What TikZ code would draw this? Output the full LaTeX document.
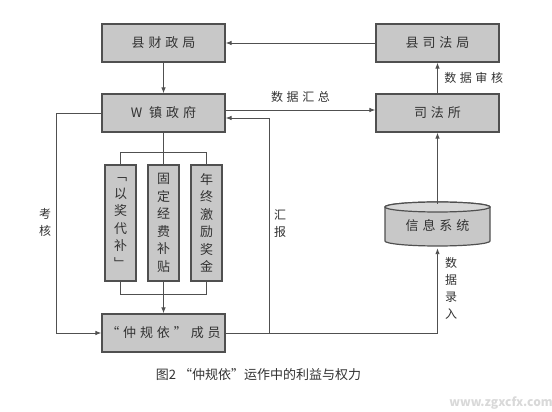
\documentclass[tikz,border=0pt]{standalone}
\usepackage{fontspec}
\setmainfont{Noto Sans CJK SC}
\newfontfamily\boxfont[LetterSpace=30]{Noto Sans CJK SC}
\usetikzlibrary{arrows.meta}
\definecolor{boxgray}{RGB}{200,200,200}
\definecolor{topgray}{RGB}{215,215,215}
\definecolor{linegray}{RGB}{80,80,80}
\definecolor{textgray}{RGB}{50,50,50}
\tikzset{
  unit/.style={draw=linegray,line width=1.2pt,fill=boxgray,minimum width=123pt,minimum height=38pt,font=\boxfont\fontsize{13}{13}\selectfont,text=textgray},
  column/.style={draw=linegray,line width=1.2pt,fill=boxgray,minimum width=31pt,minimum height=116pt,font=\fontsize{13}{17.5}\selectfont,align=center,text=textgray,inner sep=0pt},
  flow/.style={draw=linegray,line width=0.9pt,-{Latex[length=6pt,width=4.5pt]}},
  link/.style={draw=linegray,line width=0.9pt},
  lbl/.style={font=\boxfont\fontsize{12}{17}\selectfont,text=textgray,align=center}
}

\begin{document}
\begin{tikzpicture}[x=1pt,y=1pt]
    \useasboundingbox (0,0) rectangle (552,412);

    %Boxes
    \node[unit] (czj) at (163.5,369) {县财政局};
    \node[unit] (szj) at (437.5,369) {县司法局};
    \node[unit] (wzf) at (163.5,299) {W 镇政府};
    \node[unit] (sfs) at (437.5,299) {司法所};
    \node[unit] (zgy) at (163.5,79) {“仲规依”成员};

    \node[column] (c1) at (120.5,189) {﹁\\以\\奖\\代\\补\\﹂};
    \node[column] (c2) at (163.5,189) {固\\定\\经\\费\\补\\贴};
    \node[column] (c3) at (206.5,189) {年\\终\\激\\励\\奖\\金};

    %Cylinder
    \draw[draw=linegray,line width=1.2pt,fill=boxgray] (385,205) -- (385,171)
        arc[start angle=180,end angle=360,x radius=52.5pt,y radius=5pt] -- (490,205)
        arc[start angle=0,end angle=180,x radius=52.5pt,y radius=5pt] -- cycle;
    \draw[draw=linegray,line width=1.2pt,fill=topgray] (437.5,205) ellipse[x radius=52.5pt,y radius=5pt];
    \node[minimum width=105pt,minimum height=44pt,font=\boxfont\fontsize{13}{13}\selectfont,text=textgray] (info) at (437.5,186) {信息系统};

    %Connectors
    \draw[flow] (szj) -- (czj);
    \draw[flow] (czj) -- (wzf);
    \draw[flow] ([yshift=3]wzf.east) -- ([yshift=3]sfs.west) node[lbl,midway,above=4pt] (sjhz) {数据汇总};
    \draw[flow] (sfs) -- (szj) node[lbl,midway,right=3pt] (sjsh) {数据审核};
    \draw[flow] (info.north) -- (sfs);

    \draw[link] (wzf) -- (c2);
    \draw[link] (c1.north) -- ++(0,12) -| (c3.north);
    \draw[link] (c1.south) -- ++(0,-13) -| (c3.south);
    \draw[flow] (c2.south) -- (zgy);

    \draw[flow] (wzf.west) -- ++(-45,0) |- (zgy.west);
    \node[lbl] (kh) at (45,190) {考\\核};

    \coordinate (hbturn) at (269,294);
    \draw[flow] (zgy.east) -| (hbturn) -- ([yshift=-5]wzf.east);
    \node[lbl] (hb) at (280,188) {汇\\报};

    \draw[flow] (hbturn |- zgy.east) -| (info.south);
    \node[lbl] (sjlr) at (451,124) {数\\据\\录\\入};

    %Caption
    \node[font=\fontsize{13}{13}\selectfont,text=textgray] (cap) at (258.5,37) {图2 “仲规依”运作中的利益与权力};
    \node[font=\fontsize{12}{12}\selectfont\bfseries,text=gray!30] (mark) at (501,9) {www.zgxcfx.com};
\end{tikzpicture}
\end{document}
